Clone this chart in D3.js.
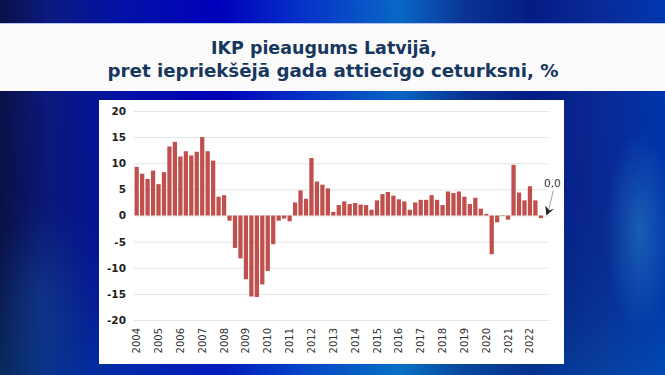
<!DOCTYPE html>
<html>
<head>
<meta charset="utf-8">
<script src="https://cdn.jsdelivr.net/npm/d3@7"></script>
<style>
  html, body { margin: 0; padding: 0; background: #0020a0; }
  svg { display: block; }
</style>
</head>
<body>
<div id="chart"></div>
<script>
// ---- data ----
const titleLines = ["IKP pieaugums Latvijā,", "pret iepriekšējā gada attiecīgo ceturksni, %"];
const years = [2004,2005,2006,2007,2008,2009,2010,2011,2012,2013,2014,2015,2016,2017,2018,2019,2020,2021,2022];
const quarters = ["Q1","Q2","Q3","Q4"];
const values = [
  9.3, 8.0, 7.0, 8.6,
  6.0, 8.3, 13.2, 14.1,
  11.3, 12.3, 11.5, 12.2,
  15.0, 12.3, 10.5, 3.6,
  3.9, -1.0, -6.2, -8.2,
  -12.2, -15.5, -15.6, -13.2,
  -10.6, -5.5, -1.0, -0.6,
  -1.1, 2.5, 4.8, 3.2,
  11.0, 6.5, 5.9, 5.2,
  0.7, 2.0, 2.7, 2.2,
  2.4, 2.1, 2.0, 1.1,
  2.9, 4.1, 4.5, 3.8,
  3.1, 2.7, 1.1, 2.5,
  3.0, 3.0, 3.9, 3.0,
  2.0, 4.6, 4.3, 4.6,
  3.6, 2.2, 3.4, 1.3,
  0.3, -7.4, -1.3, -0.1,
  -0.8, 9.7, 4.4, 2.9,
  5.6, 2.9, -0.5, 0.0
];
const yTicks = [-20, -15, -10, -5, 0, 5, 10, 15, 20];
const annotationText = "0,0";

// ---- derived ----
const periods = [];
years.forEach(y => quarters.forEach(q => periods.push(y + " " + q)));
const data = periods.map((p, i) => ({ period: p, value: values[i] }));

const W = 665, H = 375;
const svg = d3.select("#chart").append("svg").attr("width", W).attr("height", H);
const defs = svg.append("defs");

// background gradient
const bg = defs.append("linearGradient").attr("id", "bg").attr("x1", 0).attr("x2", 1).attr("y1", 0).attr("y2", 0);
[[0, "#0a1048"], [0.07, "#0a1a7e"], [0.18, "#0412a6"], [0.33, "#0000bc"], [0.45, "#0630c8"],
 [0.6, "#0868c6"], [0.7, "#0a3494"], [0.8, "#041c86"], [0.9, "#0a2a96"], [1, "#0036b0"]]
  .forEach(([o, c]) => bg.append("stop").attr("offset", o).attr("stop-color", c));
svg.append("rect").attr("width", W).attr("height", H).attr("fill", "url(#bg)");

const vshade = defs.append("linearGradient").attr("id", "vshade").attr("x1", 0).attr("x2", 0).attr("y1", 0).attr("y2", 1);
[[0, "#000020", 0.0], [0.5, "#000020", 0.05], [1, "#00a0c0", 0.18]]
  .forEach(([o, c, a]) => vshade.append("stop").attr("offset", o).attr("stop-color", c).attr("stop-opacity", a));
svg.append("rect").attr("width", W).attr("height", H).attr("fill", "url(#vshade)");

const glow = defs.append("radialGradient").attr("id", "glow");
glow.append("stop").attr("offset", 0).attr("stop-color", "#40b0e0").attr("stop-opacity", 0.35);
glow.append("stop").attr("offset", 1).attr("stop-color", "#40b0e0").attr("stop-opacity", 0);
svg.append("ellipse").attr("cx", 640).attr("cy", 230).attr("rx", 35).attr("ry", 100).attr("fill", "url(#glow)");
svg.append("ellipse").attr("cx", 40).attr("cy", 300).attr("rx", 50).attr("ry", 90).attr("fill", "url(#glow)").attr("opacity", 0.35);

// title band
svg.append("rect").attr("x", 0).attr("y", 23).attr("width", W).attr("height", 68).attr("fill", "#fbfbfb");
svg.append("line").attr("x1", 0).attr("x2", W).attr("y1", 23.5).attr("y2", 23.5).attr("stroke", "#b8c4f0").attr("stroke-width", 1);

const titleG = svg.append("g").attr("font-family", "'DejaVu Sans', Verdana, sans-serif")
  .attr("font-weight", "bold").attr("fill", "#17375e").attr("font-size", 17.5);
titleG.append("text").attr("x", 324).attr("y", 53.5).attr("text-anchor", "middle")
  .attr("textLength", 226).attr("lengthAdjust", "spacingAndGlyphs").text(titleLines[0]);
titleG.append("text").attr("x", 333).attr("y", 76.5).attr("text-anchor", "middle")
  .attr("textLength", 451).attr("lengthAdjust", "spacingAndGlyphs").text(titleLines[1]);

// chart panel
svg.append("rect").attr("x", 99).attr("y", 100).attr("width", 465).attr("height", 264).attr("fill", "#ffffff");

const x = d3.scaleBand().domain(periods).range([134, 549]).paddingInner(0.22).paddingOuter(0.1);
const y = d3.scaleLinear().domain([-20, 20]).range([320, 111]);

// gridlines
const grid = svg.append("g").attr("transform", "translate(134,0)")
  .call(d3.axisLeft(y).tickValues(yTicks).tickSize(-415).tickFormat(""));
grid.select(".domain").remove();
grid.selectAll("line").attr("stroke", "#e4e4e4").attr("stroke-width", 1);

// y axis labels
const yAxis = svg.append("g").attr("transform", "translate(126,0)")
  .call(d3.axisLeft(y).tickValues(yTicks).tickSize(0).tickPadding(0).tickFormat(d => String(d)));
yAxis.select(".domain").remove();
yAxis.selectAll("text").attr("font-family", "'DejaVu Sans', Verdana, sans-serif")
  .attr("font-size", 10.5).attr("font-weight", "bold").attr("fill", "#222");

// bars
svg.append("g").selectAll("rect").data(data).join("rect")
  .attr("x", d => x(d.period))
  .attr("width", x.bandwidth())
  .attr("y", d => y(Math.max(0, d.value)))
  .attr("height", d => Math.abs(y(d.value) - y(0)))
  .attr("fill", "#c0504d");

// x axis (year labels at Q1)
const xAxis = svg.append("g").attr("transform", "translate(0,326)")
  .call(d3.axisBottom(x).tickValues(years.map(yr => yr + " Q1")).tickFormat(p => p.slice(0, 4)).tickSize(0));
xAxis.select(".domain").remove();
xAxis.selectAll("text")
  .attr("font-family", "'DejaVu Sans', Verdana, sans-serif").attr("font-size", 10).attr("fill", "#333")
  .attr("transform", "rotate(-90)").attr("text-anchor", "end")
  .attr("x", -2).attr("y", 0).attr("dy", "0.35em");

// annotation
const last = data[data.length - 1];
const ax = x(last.period) + x.bandwidth() / 2, ay = y(last.value);
svg.append("text").attr("x", ax + 6).attr("y", ay - 29).attr("text-anchor", "middle")
  .attr("font-family", "'DejaVu Sans', Verdana, sans-serif").attr("font-size", 10.5).attr("fill", "#333")
  .text(annotationText);
svg.append("line").attr("x1", ax + 7).attr("y1", ay - 25).attr("x2", ax + 2).attr("y2", ay - 4)
  .attr("stroke", "#888").attr("stroke-width", 0.8);
svg.append("path")
  .attr("d", `M${ax},${ay} L${ax + 8},${ay - 7} L${ax + 3},${ay - 5} L${ax - 1},${ay - 10} Z`)
  .attr("fill", "#222");
</script>
</body>
</html>
